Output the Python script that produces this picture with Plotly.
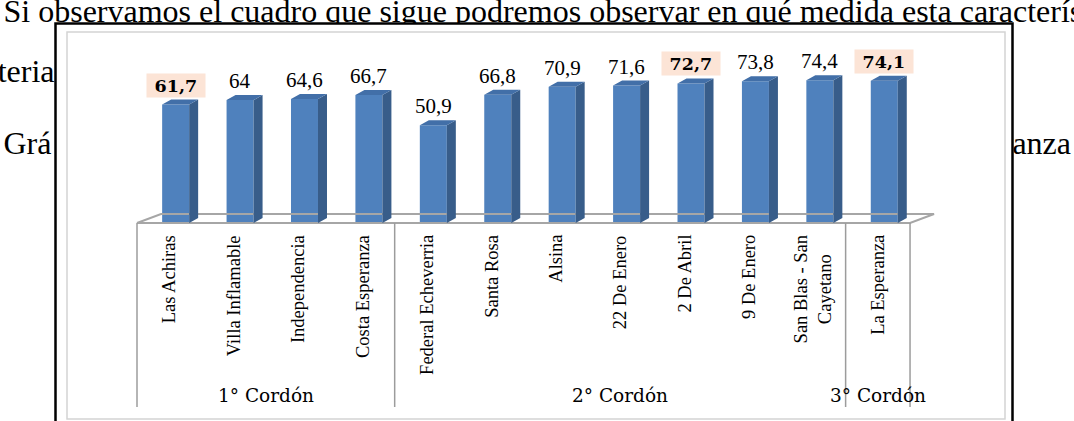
import plotly.graph_objects as go

# ---------------- data ----------------
categories = ["Las Achiras", "Villa Inflamable", "Independencia", "Costa Esperanza",
              "Federal Echeverria", "Santa Rosa", "Alsina", "22 De Enero", "2 De Abril",
              "9 De Enero", "San Blas - San<br>Cayetano", "La Esperanza"]
values = [61.7, 64, 64.6, 66.7, 50.9, 66.8, 70.9, 71.6, 72.7, 73.8, 74.4, 74.1]
highlighted = [True, False, False, False, False, False, False, False, True, False, False, True]
groups = ["1° Cordón", "2° Cordón", "3° Cordón"]
group_sizes = [4, 7, 1]

doc_texts = ["Si observamos el cuadro que sigue podremos observar en qué medida esta característica",
             "teria", "Grá", "anza"]

# ---------------- geometry helpers ----------------
W, H = 1074, 421
def px(x):
    return x / W
def py(y):
    return 1 - y / H

CAT_PX = 64.42      # pixels per category
VAL_PX = 1.92       # pixels per value unit
X_LEFT_PX, X_RIGHT_PX = 57, 1012
Y_TOP_PX, Y_BOT_PX = 24, 421
FLOOR_X0_PX, ZERO_Y_PX = 137, 223

x2_range = [-0.5 - (FLOOR_X0_PX - X_LEFT_PX) / CAT_PX,
            -0.5 + (X_RIGHT_PX - FLOOR_X0_PX) / CAT_PX]
y2_range = [-(Y_BOT_PX - ZERO_Y_PX) / VAL_PX, (ZERO_Y_PX - Y_TOP_PX) / VAL_PX]

n = len(categories)
bar_w = 27 / CAT_PX
bar_off = 0.1
ddx, ddy = 9 / CAT_PX, 5 / VAL_PX          # bar depth
fdx, fdy = 24 / CAT_PX, 9 / VAL_PX         # floor depth

fig = go.Figure()

# ---------------- document text behind the chart box ----------------
fig.add_trace(go.Scatter(
    x=[3.5, 54.5, 3.5, 1071], y=[13.8, 73.5, 145.8, 145.8],
    text=doc_texts, mode="text",
    textposition=["middle right", "middle left", "middle right", "middle left"],
    textfont=dict(family="Liberation Serif", size=32, color="#000000"),
    xaxis="x", yaxis="y", hoverinfo="skip", showlegend=False))

# ---------------- floor ----------------
fx = [-0.5, n - 0.5, n - 0.5 + fdx, -0.5 + fdx, -0.5]
fy = [0, 0, fdy, fdy, 0]
fig.add_trace(go.Scatter(x=fx, y=fy, mode="lines",
                         line=dict(color="#A6A6A6", width=2),
                         xaxis="x2", yaxis="y2", hoverinfo="skip", showlegend=False))

# ---------------- group separators ----------------
bounds = [-0.5]
for s in group_sizes:
    bounds.append(bounds[-1] + s)
sep_bottom = -(407 - ZERO_Y_PX) / VAL_PX
sx, sy = [], []
for b in bounds:
    sx += [b, b, None]
    sy += [0, sep_bottom, None]
fig.add_trace(go.Scatter(x=sx, y=sy, mode="lines",
                         line=dict(color="#9C9C9C", width=1.5),
                         xaxis="x2", yaxis="y2", hoverinfo="skip", showlegend=False))

# ---------------- bars (front) ----------------
xc = [i + bar_off for i in range(n)]
fig.add_trace(go.Bar(x=xc, y=values, width=bar_w,
                     marker=dict(color="#4F81BD", line=dict(width=0)),
                     xaxis="x2", yaxis="y2", hoverinfo="skip", showlegend=False))

# side and top faces
side_x, side_y, top_x, top_y = [], [], [], []
for c, v in zip(xc, values):
    xl, xr = c - bar_w / 2, c + bar_w / 2
    side_x += [xr, xr, xr + ddx, xr + ddx, xr, None]
    side_y += [0, v, v + ddy, ddy, 0, None]
    top_x += [xl, xr, xr + ddx, xl + ddx, xl, None]
    top_y += [v, v, v + ddy, v + ddy, v, None]
fig.add_trace(go.Scatter(x=side_x, y=side_y, mode="lines", fill="toself",
                         fillcolor="#385D8A", line=dict(width=0, color="#385D8A"),
                         xaxis="x2", yaxis="y2", hoverinfo="skip", showlegend=False))
fig.add_trace(go.Scatter(x=top_x, y=top_y, mode="lines", fill="toself",
                         fillcolor="#426FA8", line=dict(width=0, color="#426FA8"),
                         xaxis="x2", yaxis="y2", hoverinfo="skip", showlegend=False))

annotations = []
# value labels
for c, v, h in zip(xc, values, highlighted):
    txt = str(v).replace(".", ",")
    if h:
        annotations.append(dict(
            x=c, y=v, xref="x2", yref="y2", yanchor="middle", yshift=19.5,
            text="\u00a0" + txt + "\u00a0", showarrow=False, bgcolor="#FCE4D6",
            borderpad=1.5,
            font=dict(family="DejaVu Serif", size=17.5, color="#000000", weight="bold")))
    else:
        annotations.append(dict(
            x=c, y=v, xref="x2", yref="y2", yanchor="middle", yshift=19,
            text=txt, showarrow=False,
            font=dict(family="Liberation Serif", size=21, color="#000000")))

# category labels
for i, cat in enumerate(categories):
    annotations.append(dict(
        x=i, y=py(233), xref="x2", yref="paper", xanchor="center", yanchor="top",
        text=cat, textangle=-90, showarrow=False, align="center",
        font=dict(family="Liberation Serif", size=18.5, color="#000000")))

# group labels
for g, (b0, b1) in enumerate(zip(bounds[:-1], bounds[1:])):
    annotations.append(dict(
        x=(b0 + b1) / 2, y=py(395), xref="x2", yref="paper",
        xanchor="center", yanchor="middle", text=groups[g], showarrow=False,
        font=dict(family="DejaVu Serif", size=18.5, color="#000000")))

shapes = [
    dict(type="rect", xref="paper", yref="paper",
         x0=px(67), x1=px(1005), y0=py(419), y1=py(32),
         line=dict(color="#D4D4D4", width=1.5), layer="above"),
    dict(type="rect", xref="paper", yref="paper",
         x0=px(55.5), x1=px(1012.5), y0=py(440), y1=py(23.5),
         line=dict(color="#000000", width=2.5), layer="above"),
]

fig.update_layout(
    width=W, height=H, margin=dict(l=0, r=0, t=0, b=0),
    paper_bgcolor="#FFFFFF", plot_bgcolor="#FFFFFF", showlegend=False,
    xaxis=dict(domain=[0, 1], range=[0, W], visible=False, fixedrange=True),
    yaxis=dict(domain=[0, 1], range=[H, 0], visible=False, fixedrange=True),
    xaxis2=dict(domain=[px(X_LEFT_PX), px(X_RIGHT_PX)], range=x2_range,
                visible=False, anchor="y2", fixedrange=True),
    yaxis2=dict(domain=[0, py(Y_TOP_PX)], range=y2_range,
                visible=False, anchor="x2", fixedrange=True),
    annotations=annotations, shapes=shapes,
)

fig.write_html(
    "out.html",
    config={"displayModeBar": False},
    post_script="document.body.style.margin='0';document.body.style.overflow='hidden';",
)
